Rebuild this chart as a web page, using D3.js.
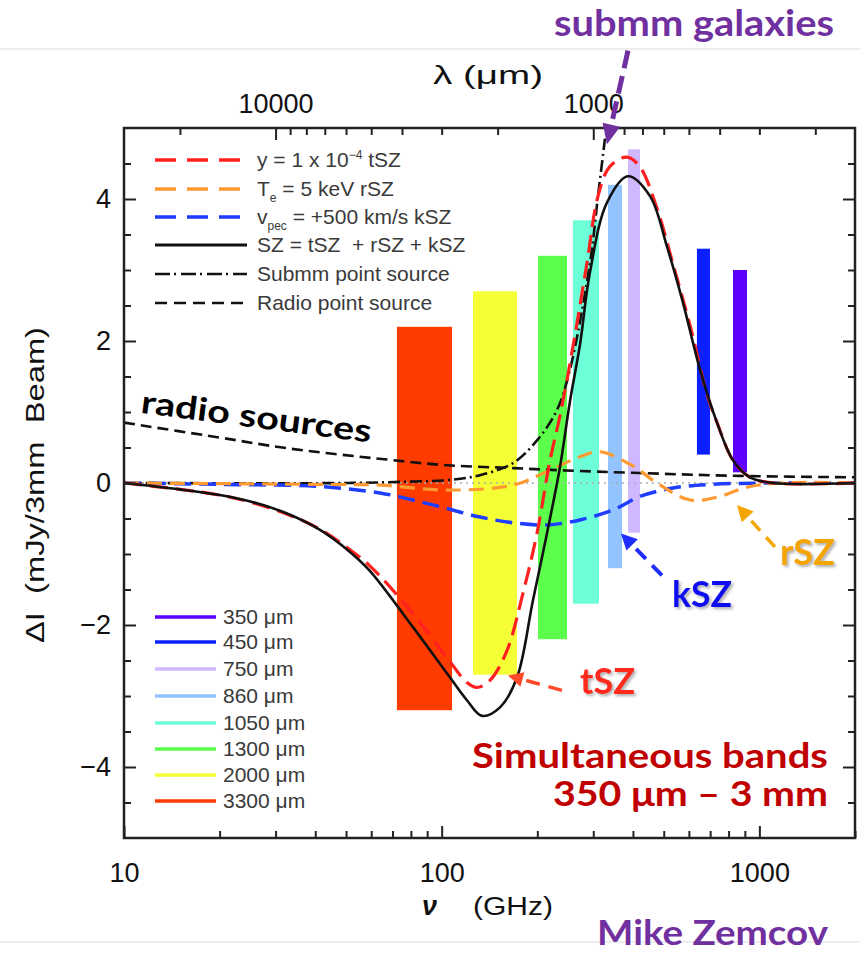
<!DOCTYPE html>
<html>
<head>
<meta charset="utf-8">
<script src="https://cdn.jsdelivr.net/npm/d3@7"></script>
<style>
body { margin: 0; background: #fff; }
svg { display: block; font-family: "Liberation Sans", Arial, sans-serif; }
text { white-space: pre; }
</style>
</head>
<body>
<svg id="chart" width="860" height="954"></svg>
<script>
// ---- data: [frequency GHz, delta I mJy/beam] ----
var tszData = [[10,0],[15,-0.09],[20,-0.17],[25.5,-0.28],[32.6,-0.44],[41.4,-0.65],[51.1,-0.93],[59.5,-1.17],
  [81.2,-1.84],[103.9,-2.46],[120.1,-2.81],[129.1,-2.88],[141.9,-2.78],[160.5,-2.36],[180.3,-1.55],
  [199.5,-0.71],[219.3,0.32],[235.8,0.95],[259,1.92],[286.7,3.1],[310.5,4.04],[338.6,4.46],[383,4.59],
  [421,4.45],[476,3.87],[535,3.08],[605,2.22],[684,1.25],[736,0.85],[826,0.32],[934,0.08],[1104,0],[2000,0]];
var szTotal = [[10,0],[15,-0.09],[20,-0.17],[25.5,-0.27],[32.6,-0.43],[41.4,-0.66],[51.1,-0.96],[59.5,-1.24],
  [81.2,-2.03],[103.9,-2.68],[120.1,-3.06],[133.9,-3.28],[152.6,-3.16],[172.6,-2.74],[193.8,-1.65],
  [214.5,-0.71],[235.8,0.23],[253.4,1.15],[272.5,1.95],[293,2.97],[331.4,3.95],[385.9,4.32],[452.6,4.04],
  [511.9,3.33],[574.8,2.54],[650,1.6],[735.6,0.85],[826,0.32],[934,0.08],[1104,0],[2000,0]];
var kszData = [[10,0],[20,-0.02],[41.4,-0.05],[63.9,-0.14],[81.2,-0.24],[103.9,-0.36],[132,-0.48],
  [167.7,-0.56],[214.5,-0.59],[272.5,-0.52],[346,-0.38],[421,-0.19],[535,-0.07],[700,-0.02],[1104,0],[2000,0]];
var rszData = [[10,0],[41.4,-0.02],[63.9,-0.03],[103.9,-0.1],[167.7,-0.03],[214.5,0.16],[272.5,0.37],
  [315,0.44],[400,0.24],[476,0],[605,-0.24],[736,-0.2],[914,-0.06],[1161,0],[2000,0]];
var submmData = [[10,0],[50,0],[80,0.02],[103.9,0.04],[132,0.11],[167.7,0.28],[199.5,0.6],[230.7,1.03],
  [253.4,1.6],[293,3.1],[310.5,4.04],[326.6,4.85]];
var radioData = [[10,0.85],[20,0.64],[32.6,0.49],[67.3,0.33],[103.9,0.25],[167.7,0.21],[235.8,0.18],
  [421,0.14],[869,0.1],[2000,0.08]];

// observing bands
var bandNames = ["350 \u03bcm","450 \u03bcm","750 \u03bcm","860 \u03bcm","1050 \u03bcm","1300 \u03bcm","2000 \u03bcm","3300 \u03bcm"];
var bandLo  = [826, 636, 385.9, 333.8, 259, 201, 125.5, 72.3];
var bandHi  = [914, 699, 421, 369.4, 312.7, 248, 172.6, 107.8];
var bandMin = [0.15, 0.4, -0.7, -1.2, -1.7, -2.2, -2.7, -3.2];
var bandMax = [3.0, 3.3, 4.7, 4.2, 3.7, 3.2, 2.7, 2.2];
var bandColors = ["#5c00ff","#0a20ff","#d0b8ff","#93c4ff","#6dffd8","#5cff4c","#f5ff35","#ff3b00"];

// ticks
var nuMajor = [10, 100, 1000];
var nuMinor = [20,30,40,50,60,70,80,90,200,300,400,500,600,700,800,900,2000];
var lamMajor = [10000, 1000];
var lamMinor = [20000,9000,8000,7000,6000,5000,4000,3000,2000,900,800,700,600,500,400,300,200];
var yMajor = [-4, -2, 0, 2, 4];
var yMinor = [-4.5,-3.5,-3,-2.5,-1.5,-1,-0.5,0.5,1,1.5,2.5,3,3.5,4.5];

var svg = d3.select("#chart");
var x = d3.scaleLog().domain([10, 2000]).range([124, 855]);
var y = d3.scaleLinear().domain([-5, 5]).range([838, 128]);
var lam = d3.scaleLog().domain([3e5 / 10, 3e5 / 2000]).range([124, 855]);

var defs = svg.append("defs");
defs.append("clipPath").attr("id", "plotclip").append("rect")
    .attr("x", 124).attr("y", 128).attr("width", 731).attr("height", 710);
defs.append("filter").attr("id", "shadow").attr("x", "-20%").attr("y", "-20%").attr("width", "150%").attr("height", "150%")
  .append("feDropShadow").attr("dx", 2).attr("dy", 2).attr("stdDeviation", 1.5)
    .attr("flood-color", "#777").attr("flood-opacity", 0.6);

// slide separators
svg.append("line").attr("x1", 0).attr("x2", 860).attr("y1", 49).attr("y2", 49)
    .attr("stroke", "#dcdcdc").attr("stroke-width", 1);
svg.append("line").attr("x1", 0).attr("x2", 860).attr("y1", 942).attr("y2", 942)
    .attr("stroke", "#dcdcdc").attr("stroke-width", 1);

var plot = svg.append("g").attr("clip-path", "url(#plotclip)");

// bands
plot.selectAll("rect.band")
    .data(bandNames)
  .enter().append("rect")
    .attr("class", "band")
    .attr("x", function(d, i) { return x(bandLo[i]); })
    .attr("width", function(d, i) { return x(bandHi[i]) - x(bandLo[i]); })
    .attr("y", function(d, i) { return y(bandMax[i]); })
    .attr("height", function(d, i) { return y(bandMin[i]) - y(bandMax[i]); })
    .attr("fill", function(d, i) { return bandColors[i]; });

// zero line
plot.append("line")
    .attr("x1", 124).attr("x2", 855).attr("y1", y(0)).attr("y2", y(0))
    .attr("stroke", "#aaa").attr("stroke-width", 1.5).attr("stroke-dasharray", "2,4");

var line = d3.line()
    .x(function(d) { return x(d[0]); })
    .y(function(d) { return y(d[1]); })
    .curve(d3.curveCatmullRom.alpha(0.5));

var curves = [
  {data: radioData, color: "#111", width: 2.6, dash: "11,6"},
  {data: submmData, color: "#111", width: 2.6, dash: "12,4,2,4"},
  {data: kszData,   color: "#1f3dff", width: 3.5, dash: "17,8"},
  {data: rszData,   color: "#ff9a33", width: 3.2, dash: "15,8"},
  {data: tszData,   color: "#ff2020", width: 3.2, dash: "18,8"},
  {data: szTotal,   color: "#111", width: 2.6, dash: null}
];
curves.forEach(function(c) {
  plot.append("path")
      .attr("d", line(c.data))
      .attr("fill", "none")
      .attr("stroke", c.color)
      .attr("stroke-width", c.width)
      .attr("stroke-dasharray", c.dash);
});

// axes
function styleAxis(g, fs) {
  g.select(".domain").remove();
  g.selectAll(".tick line").attr("stroke", "#222").attr("stroke-width", 2);
  g.selectAll(".tick text").attr("fill", "#111").style("font-size", fs + "px")
      .style("font-family", "'Liberation Sans', Arial, sans-serif");
}
var fmt = d3.format("d");
styleAxis(svg.append("g").attr("transform", "translate(0,838)")
    .call(d3.axisBottom(x).tickValues(nuMajor).tickSizeInner(-12).tickSizeOuter(0).tickPadding(25).tickFormat(fmt)), 27);
styleAxis(svg.append("g").attr("transform", "translate(0,838)")
    .call(d3.axisBottom(x).tickValues(nuMinor).tickSizeInner(-7).tickSizeOuter(0).tickFormat("")), 27);
styleAxis(svg.append("g").attr("transform", "translate(0,128)")
    .call(d3.axisTop(lam).tickValues(lamMajor).tickSizeInner(-12).tickSizeOuter(0).tickPadding(15).tickFormat(fmt)), 27);
styleAxis(svg.append("g").attr("transform", "translate(0,128)")
    .call(d3.axisTop(lam).tickValues(lamMinor).tickSizeInner(-7).tickSizeOuter(0).tickFormat("")), 27);
styleAxis(svg.append("g").attr("transform", "translate(124,0)")
    .call(d3.axisLeft(y).tickValues(yMajor).tickSizeInner(-12).tickSizeOuter(0).tickPadding(13)), 27);
styleAxis(svg.append("g").attr("transform", "translate(124,0)")
    .call(d3.axisLeft(y).tickValues(yMinor).tickSizeInner(-7).tickSizeOuter(0).tickFormat("")), 27);
styleAxis(svg.append("g").attr("transform", "translate(855,0)")
    .call(d3.axisRight(y).tickValues(yMajor).tickSizeInner(-12).tickSizeOuter(0).tickFormat("")), 27);
styleAxis(svg.append("g").attr("transform", "translate(855,0)")
    .call(d3.axisRight(y).tickValues(yMinor).tickSizeInner(-7).tickSizeOuter(0).tickFormat("")), 27);

// frame
svg.append("rect").attr("x", 124).attr("y", 128).attr("width", 731).attr("height", 710)
    .attr("fill", "none").attr("stroke", "#222").attr("stroke-width", 2.5);

// axis titles
svg.append("text").attr("x", 433).attr("y", 84)
    .attr("textLength", 110).attr("lengthAdjust", "spacingAndGlyphs")
    .style("font-size", "25px").attr("fill", "#111").text("\u03bb (\u03bcm)");
svg.append("text").attr("x", 422).attr("y", 915)
    .style("font-size", "27px").style("font-style", "italic").style("font-weight", "bold")
    .attr("fill", "#111").text("\u03bd");
svg.append("text").attr("x", 473).attr("y", 915)
    .attr("textLength", 80).attr("lengthAdjust", "spacingAndGlyphs")
    .style("font-size", "25px").attr("fill", "#111").text("(GHz)");
svg.append("text").attr("transform", "translate(44,485) rotate(-90)")
    .attr("text-anchor", "middle").attr("textLength", 316).attr("lengthAdjust", "spacingAndGlyphs")
    .style("font-size", "25px").attr("fill", "#111").text("\u0394I  (mJy/3mm  Beam)");

// model legend
var leg1 = svg.append("g");
var leg1Rows = [
  {color: "#ff2020", width: 3.5, dash: "21,11"},
  {color: "#ff9a33", width: 3.5, dash: "21,11"},
  {color: "#1f3dff", width: 3.5, dash: "21,11"},
  {color: "#111", width: 3.2, dash: null},
  {color: "#111", width: 2.6, dash: "15,4,2,5"},
  {color: "#111", width: 2.6, dash: "12,7"}
];
var leg1Y = [160, 189, 217, 245, 274, 303];
leg1Rows.forEach(function(r, i) {
  leg1.append("line").attr("x1", 155).attr("x2", 247).attr("y1", leg1Y[i]).attr("y2", leg1Y[i])
      .attr("stroke", r.color).attr("stroke-width", r.width).attr("stroke-dasharray", r.dash);
});
function legText(i) {
  return leg1.append("text").attr("x", 257).attr("y", leg1Y[i] + 7)
      .style("font-size", "21px").attr("fill", "#3a3a3a");
}
var t0 = legText(0);
t0.append("tspan").text("y = 1 x 10");
t0.append("tspan").attr("dy", -8).style("font-size", "12px").text("\u22124");
t0.append("tspan").attr("dy", 8).text(" tSZ");
var t1 = legText(1);
t1.append("tspan").text("T");
t1.append("tspan").attr("dy", 6).style("font-size", "12px").text("e");
t1.append("tspan").attr("dy", -6).text(" = 5 keV rSZ");
var t2 = legText(2);
t2.append("tspan").text("v");
t2.append("tspan").attr("dy", 6).style("font-size", "12px").text("pec");
t2.append("tspan").attr("dy", -6).text(" = +500 km/s kSZ");
legText(3).text("SZ = tSZ  + rSZ + kSZ");
legText(4).text("Submm point source");
legText(5).text("Radio point source");

// band legend
var leg2Y = [617, 642, 669, 696, 723, 749, 775, 801];
var leg2 = svg.append("g").selectAll("g").data(bandNames).enter().append("g");
leg2.append("line")
    .attr("x1", 155).attr("x2", 216)
    .attr("y1", function(d, i) { return leg2Y[i]; }).attr("y2", function(d, i) { return leg2Y[i]; })
    .attr("stroke", function(d, i) { return bandColors[i]; }).attr("stroke-width", 3.5);
leg2.append("text")
    .attr("x", 223).attr("y", function(d, i) { return leg2Y[i] + 7; })
    .style("font-size", "21px").attr("fill", "#3a3a3a")
    .text(function(d) { return d; });

// annotations
function arrow(from, to, color, w, dash, hl, hw) {
  var x0 = x(from[0]), y0 = y(from[1]), x1 = x(to[0]), y1 = y(to[1]);
  var dx = x1 - x0, dy = y1 - y0, L = Math.sqrt(dx * dx + dy * dy), ux = dx / L, uy = dy / L;
  var bx = x1 - ux * hl, by = y1 - uy * hl;
  svg.append("line").attr("x1", x0).attr("y1", y0).attr("x2", bx).attr("y2", by)
      .attr("stroke", color).attr("stroke-width", w).attr("stroke-dasharray", dash);
  svg.append("path")
      .attr("d", "M" + x1 + "," + y1 + "L" + (bx - uy * hw / 2) + "," + (by + ux * hw / 2) +
                 "L" + (bx + uy * hw / 2) + "," + (by - ux * hw / 2) + "Z")
      .attr("fill", color);
}
arrow([385.9, 6.09], [331.4, 4.77], "#7030a0", 5, "18,8", 20, 18);
arrow([239.1, -2.92], [161.7, -2.71], "#ff4a2a", 3.5, "14,9", 15, 15);
arrow([493.6, -1.30], [366.7, -0.71], "#1f2dff", 4, "14,9", 16, 16);
arrow([1119, -0.90], [850.3, -0.31], "#f5a500", 3.5, "13,9", 16, 16);

function note(px, py, str, size, width, color, anchor, shadow) {
  var t = svg.append("text").attr("x", px).attr("y", py)
      .attr("text-anchor", anchor || "start")
      .attr("textLength", width).attr("lengthAdjust", "spacingAndGlyphs")
      .style("font-family", "Lato, 'Open Sans', sans-serif").style("font-weight", "bold")
      .style("font-size", size + "px").attr("fill", color).text(str);
  if (shadow) t.attr("filter", "url(#shadow)");
  return t;
}
note(x(272.5), y(-2.97), "tSZ", 36, 55, "#ff2a1a", "start", true);
note(x(530.8), y(-1.75), "kSZ", 37, 60, "#1010f0", "start", true);
note(x(1161), y(-1.16), "rSZ", 36, 55, "#f5a500", "start", true);
note(x(1644), y(-4.01), "Simultaneous bands", 35, 356, "#c00000", "end", false);
note(x(1644), y(-4.55), "350 \u03bcm \u2013 3 mm", 35, 275, "#c00000", "end", false);
note(x(11.23), y(0.99), "radio sources", 32, 232, "#000", "start", false)
    .attr("transform", "rotate(7.4," + x(11.23) + "," + y(0.99) + ")");
note(554, 36, "submm galaxies", 36, 280, "#7030a0", "start", false);
note(597, 945, "Mike Zemcov", 35, 231, "#7030a0", "start", false);
</script>
</body>
</html>
